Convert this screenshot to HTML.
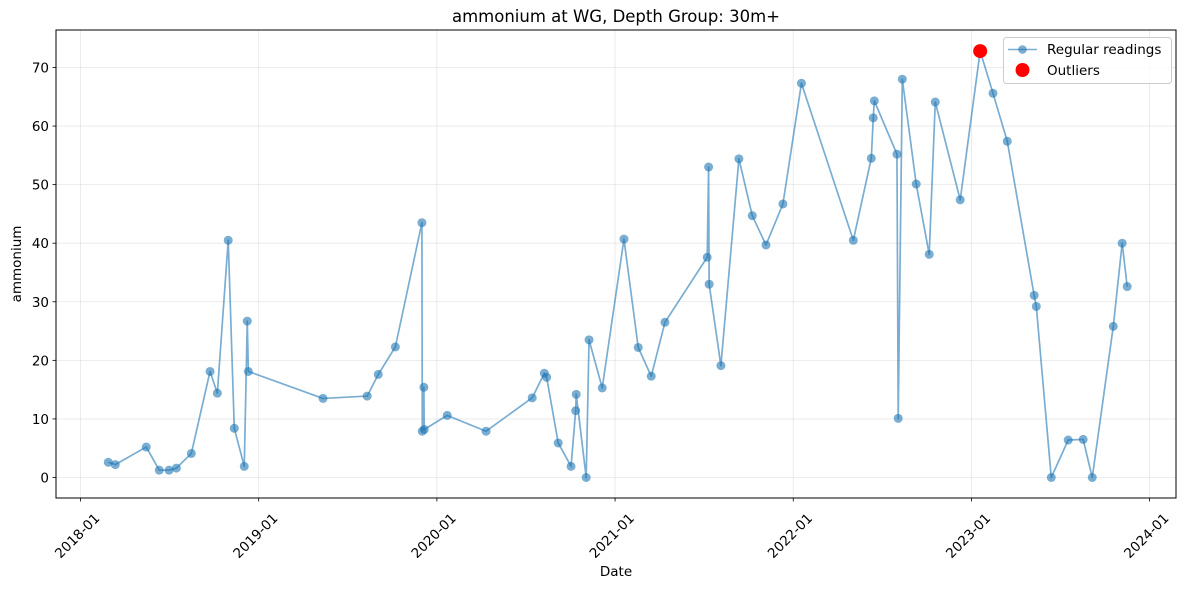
<!DOCTYPE html>
<html><head><meta charset="utf-8"><style>
html,body{margin:0;padding:0;background:#fff;}
svg{display:block;font-family:"DejaVu Sans","Liberation Sans",sans-serif;}
</style></head><body>
<svg id="chart" width="1187" height="589" xmlns="http://www.w3.org/2000/svg">
<rect width="1187" height="589" fill="#fff"/>
<g id="grid"></g>
<g id="series"></g>
<rect x="56" y="30" width="1120" height="468" fill="none" stroke="#000" stroke-width="1"/>
<g id="axes"></g>
<text x="616" y="22" text-anchor="middle" font-size="16.5">ammonium at WG, Depth Group: 30m+</text>
<text x="616" y="576" text-anchor="middle" font-size="13.5">Date</text>
<text x="0" y="0" transform="translate(21,264) rotate(-90)" text-anchor="middle" font-size="13.5">ammonium</text>
<g>
<rect x="1003.5" y="37.5" width="168" height="46" rx="3" fill="#fff" fill-opacity="0.8" stroke="#ccc"/>
<g>
<line x1="1008" y1="49.5" x2="1037" y2="49.5" stroke="#1f77b4" stroke-opacity="0.6" stroke-width="1.5"/>
<circle cx="1022.5" cy="49.5" r="4.3" fill="#1f77b4" fill-opacity="0.6"/>
<text x="1047" y="54" font-size="13.5">Regular readings</text>
</g>
<g>
<circle cx="1022.5" cy="70" r="7" fill="#ff0000"/>
<text x="1047" y="75" font-size="13.5">Outliers</text>
</g>
</g>
</svg>
<script>
const dates=[2018.156,2018.195,2018.369,2018.442,2018.497,2018.538,2018.622,2018.727,2018.768,2018.829,2018.863,2018.919,2018.936,2018.942,2019.361,2019.609,2019.671,2019.767,2019.916,2019.918,2019.927,2019.929,2020.058,2020.276,2020.535,2020.603,2020.616,2020.681,2020.753,2020.779,2020.782,2020.838,2020.854,2020.928,2021.050,2021.130,2021.203,2021.280,2021.517,2021.525,2021.528,2021.594,2021.695,2021.770,2021.847,2021.942,2022.046,2022.337,2022.438,2022.449,2022.455,2022.582,2022.589,2022.612,2022.690,2022.763,2022.797,2022.937,2023.049,2023.121,2023.201,2023.352,2023.364,2023.448,2023.543,2023.627,2023.678,2023.796,2023.846,2023.874];
const values=[2.6,2.2,5.2,1.25,1.25,1.6,4.1,18.1,14.4,40.5,8.4,1.9,26.7,18.1,13.5,13.9,17.6,22.3,43.5,7.9,15.4,8.2,10.6,7.9,13.6,17.8,17.1,5.9,1.9,11.4,14.2,0,23.5,15.3,40.7,22.2,17.3,26.5,37.6,53.0,33.0,19.1,54.4,44.7,39.7,46.7,67.3,40.5,54.5,61.4,64.3,55.2,10.1,68.0,50.1,38.1,64.1,47.4,72.8,65.6,57.4,31.1,29.2,0,6.4,6.5,0,25.8,40.0,32.6];
const outlierDates=[2023.049];
const outlierValues=[72.8];
const xTickYears=[2018,2019,2020,2021,2022,2023,2024];
const xTickLabels=["2018-01","2019-01","2020-01","2021-01","2022-01","2023-01","2024-01"];
const yTicks=[0,10,20,30,40,50,60,70];

const X0=56,X1=1176,Y0=498,Y1=30;
const xMin=2017.8625,xMax=2024.148,yMin=-3.5,yMax=76.4;
function sx(v){return X0+(v-xMin)/(xMax-xMin)*(X1-X0);}
function sy(v){return Y0-(v-yMin)/(yMax-yMin)*(Y0-Y1);}
const NS="http://www.w3.org/2000/svg";
function mk(tag,attrs,parent){const e=document.createElementNS(NS,tag);for(const k in attrs)e.setAttribute(k,attrs[k]);parent.appendChild(e);return e;}
const grid=document.getElementById('grid'),axes=document.getElementById('axes'),ser=document.getElementById('series');
xTickYears.forEach((yr,i)=>{
  const x=sx(yr);
  const g=mk('line',{x1:x,x2:x,y1:Y1,y2:Y0,stroke:'#b0b0b0','stroke-opacity':0.3,'stroke-width':0.8},grid);
  
  
  const t=mk('line',{x1:x,x2:x,y1:Y0,y2:Y0+3.5,stroke:'#000','stroke-width':0.8},axes);
  
  
  const l=mk('text',{x:0,y:0,transform:`translate(${x},${Y0+41}) rotate(-45)`,'text-anchor':'middle','font-size':13.5},axes);
  l.textContent=xTickLabels[i];
  
  
});
yTicks.forEach(v=>{
  const y=sy(v);
  const g=mk('line',{x1:X0,x2:X1,y1:y,y2:y,stroke:'#b0b0b0','stroke-opacity':0.3,'stroke-width':0.8},grid);
  
  
  const t=mk('line',{x1:X0-3.5,x2:X0,y1:y,y2:y,stroke:'#000','stroke-width':0.8},axes);
  
  
  const l=mk('text',{x:X0-7,y:y+5,'text-anchor':'end','font-size':13.5},axes);
  l.textContent=String(v);
  
  
});
const pts=dates.map((d,i)=>sx(d).toFixed(2)+','+sy(values[i]).toFixed(2)).join(' ');
const pl=mk('polyline',{points:pts,fill:'none',stroke:'#1f77b4','stroke-opacity':0.6,'stroke-width':1.7,'stroke-linejoin':'round'},ser);


dates.forEach((d,i)=>{
  const c=mk('circle',{cx:sx(d),cy:sy(values[i]),r:4.5,fill:'#1f77b4','fill-opacity':0.6},ser);
  
  
});
outlierDates.forEach((d,i)=>{
  const c=mk('circle',{cx:sx(d),cy:sy(outlierValues[i]),r:7,fill:'#ff0000'},ser);
  
  
});
</script>
</body></html>
